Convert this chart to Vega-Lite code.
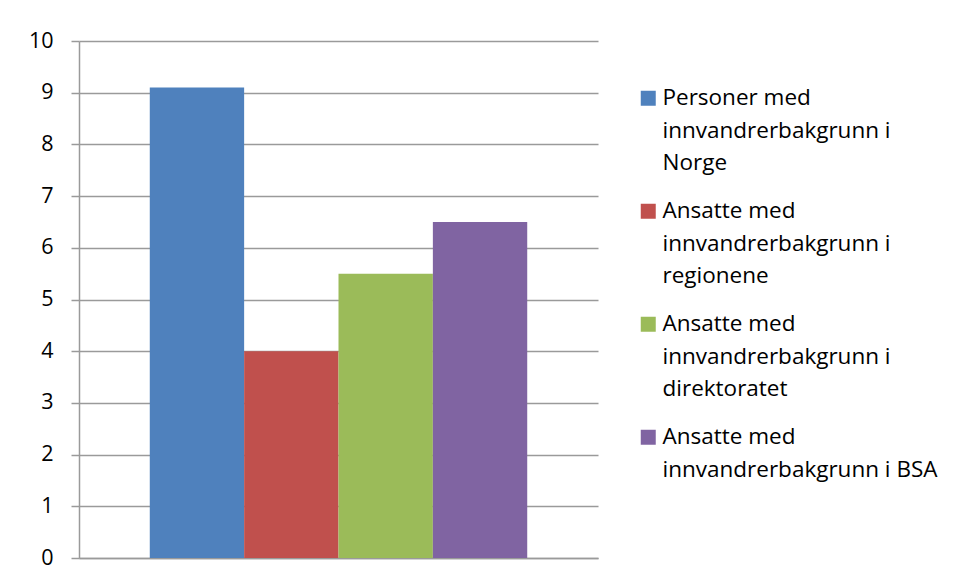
{
  "$schema": "https://vega.github.io/schema/vega-lite/v6.json",
  "width": 519,
  "height": 517,
  "autosize": "none",
  "padding": {"left": 79, "top": 41, "right": 359, "bottom": 22},
  "background": "white",
  "data": {
    "values": [
      {"serie": "Personer med innvandrerbakgrunn i Norge", "verdi": 9.1},
      {"serie": "Ansatte med innvandrerbakgrunn i regionene", "verdi": 4.0},
      {"serie": "Ansatte med innvandrerbakgrunn i direktoratet", "verdi": 5.5},
      {"serie": "Ansatte med innvandrerbakgrunn i BSA", "verdi": 6.5}
    ]
  },
  "mark": {"type": "bar"},
  "encoding": {
    "x": {
      "field": "serie",
      "type": "nominal",
      "sort": null,
      "scale": {"paddingInner": 0, "paddingOuter": 0.75},
      "axis": {"title": null, "labels": false, "ticks": false, "domainColor": "#9a9a9a", "domainWidth": 1.5}
    },
    "y": {
      "field": "verdi",
      "type": "quantitative",
      "scale": {"domain": [0, 10]},
      "axis": {
        "title": null,
        "values": [0, 1, 2, 3, 4, 5, 6, 7, 8, 9, 10],
        "grid": true,
        "gridColor": "#9a9a9a",
        "gridWidth": 1.5,
        "tickSize": 8,
        "tickColor": "#9a9a9a",
        "tickWidth": 1.5,
        "domainColor": "#9a9a9a",
        "domainWidth": 1.5,
        "labelPadding": 18,
        "labelFont": "Open Sans",
        "labelFontSize": 21.5,
        "labelColor": "#000000"
      }
    },
    "color": {
      "field": "serie",
      "type": "nominal",
      "sort": null,
      "scale": {"range": ["#4F81BD", "#C0504D", "#9BBB59", "#8064A2"]},
      "legend": {
        "title": null,
        "orient": "none",
        "legendX": 558,
        "legendY": 46,
        "padding": 0,
        "symbolType": "square",
        "symbolSize": 225,
        "symbolStrokeWidth": 0,
        "labelOffset": 3,
        "rowPadding": 25,
        "labelFont": "Open Sans",
        "labelFontSize": 22.5,
        "labelColor": "#000000",
        "labelLimit": 400,
        "labelExpr": "datum.label == 'Ansatte med innvandrerbakgrunn i BSA' ? ['Ansatte med', 'innvandrerbakgrunn i BSA'] : split(replace(replace(datum.label, ' med ', ' med|'), 'grunn i ', 'grunn i|'), '|')",
        "encode": {
          "labels": {"update": {"lineHeight": {"value": 32.5}}}
        }
      }
    }
  },
  "config": {"view": {"stroke": null}}
}
